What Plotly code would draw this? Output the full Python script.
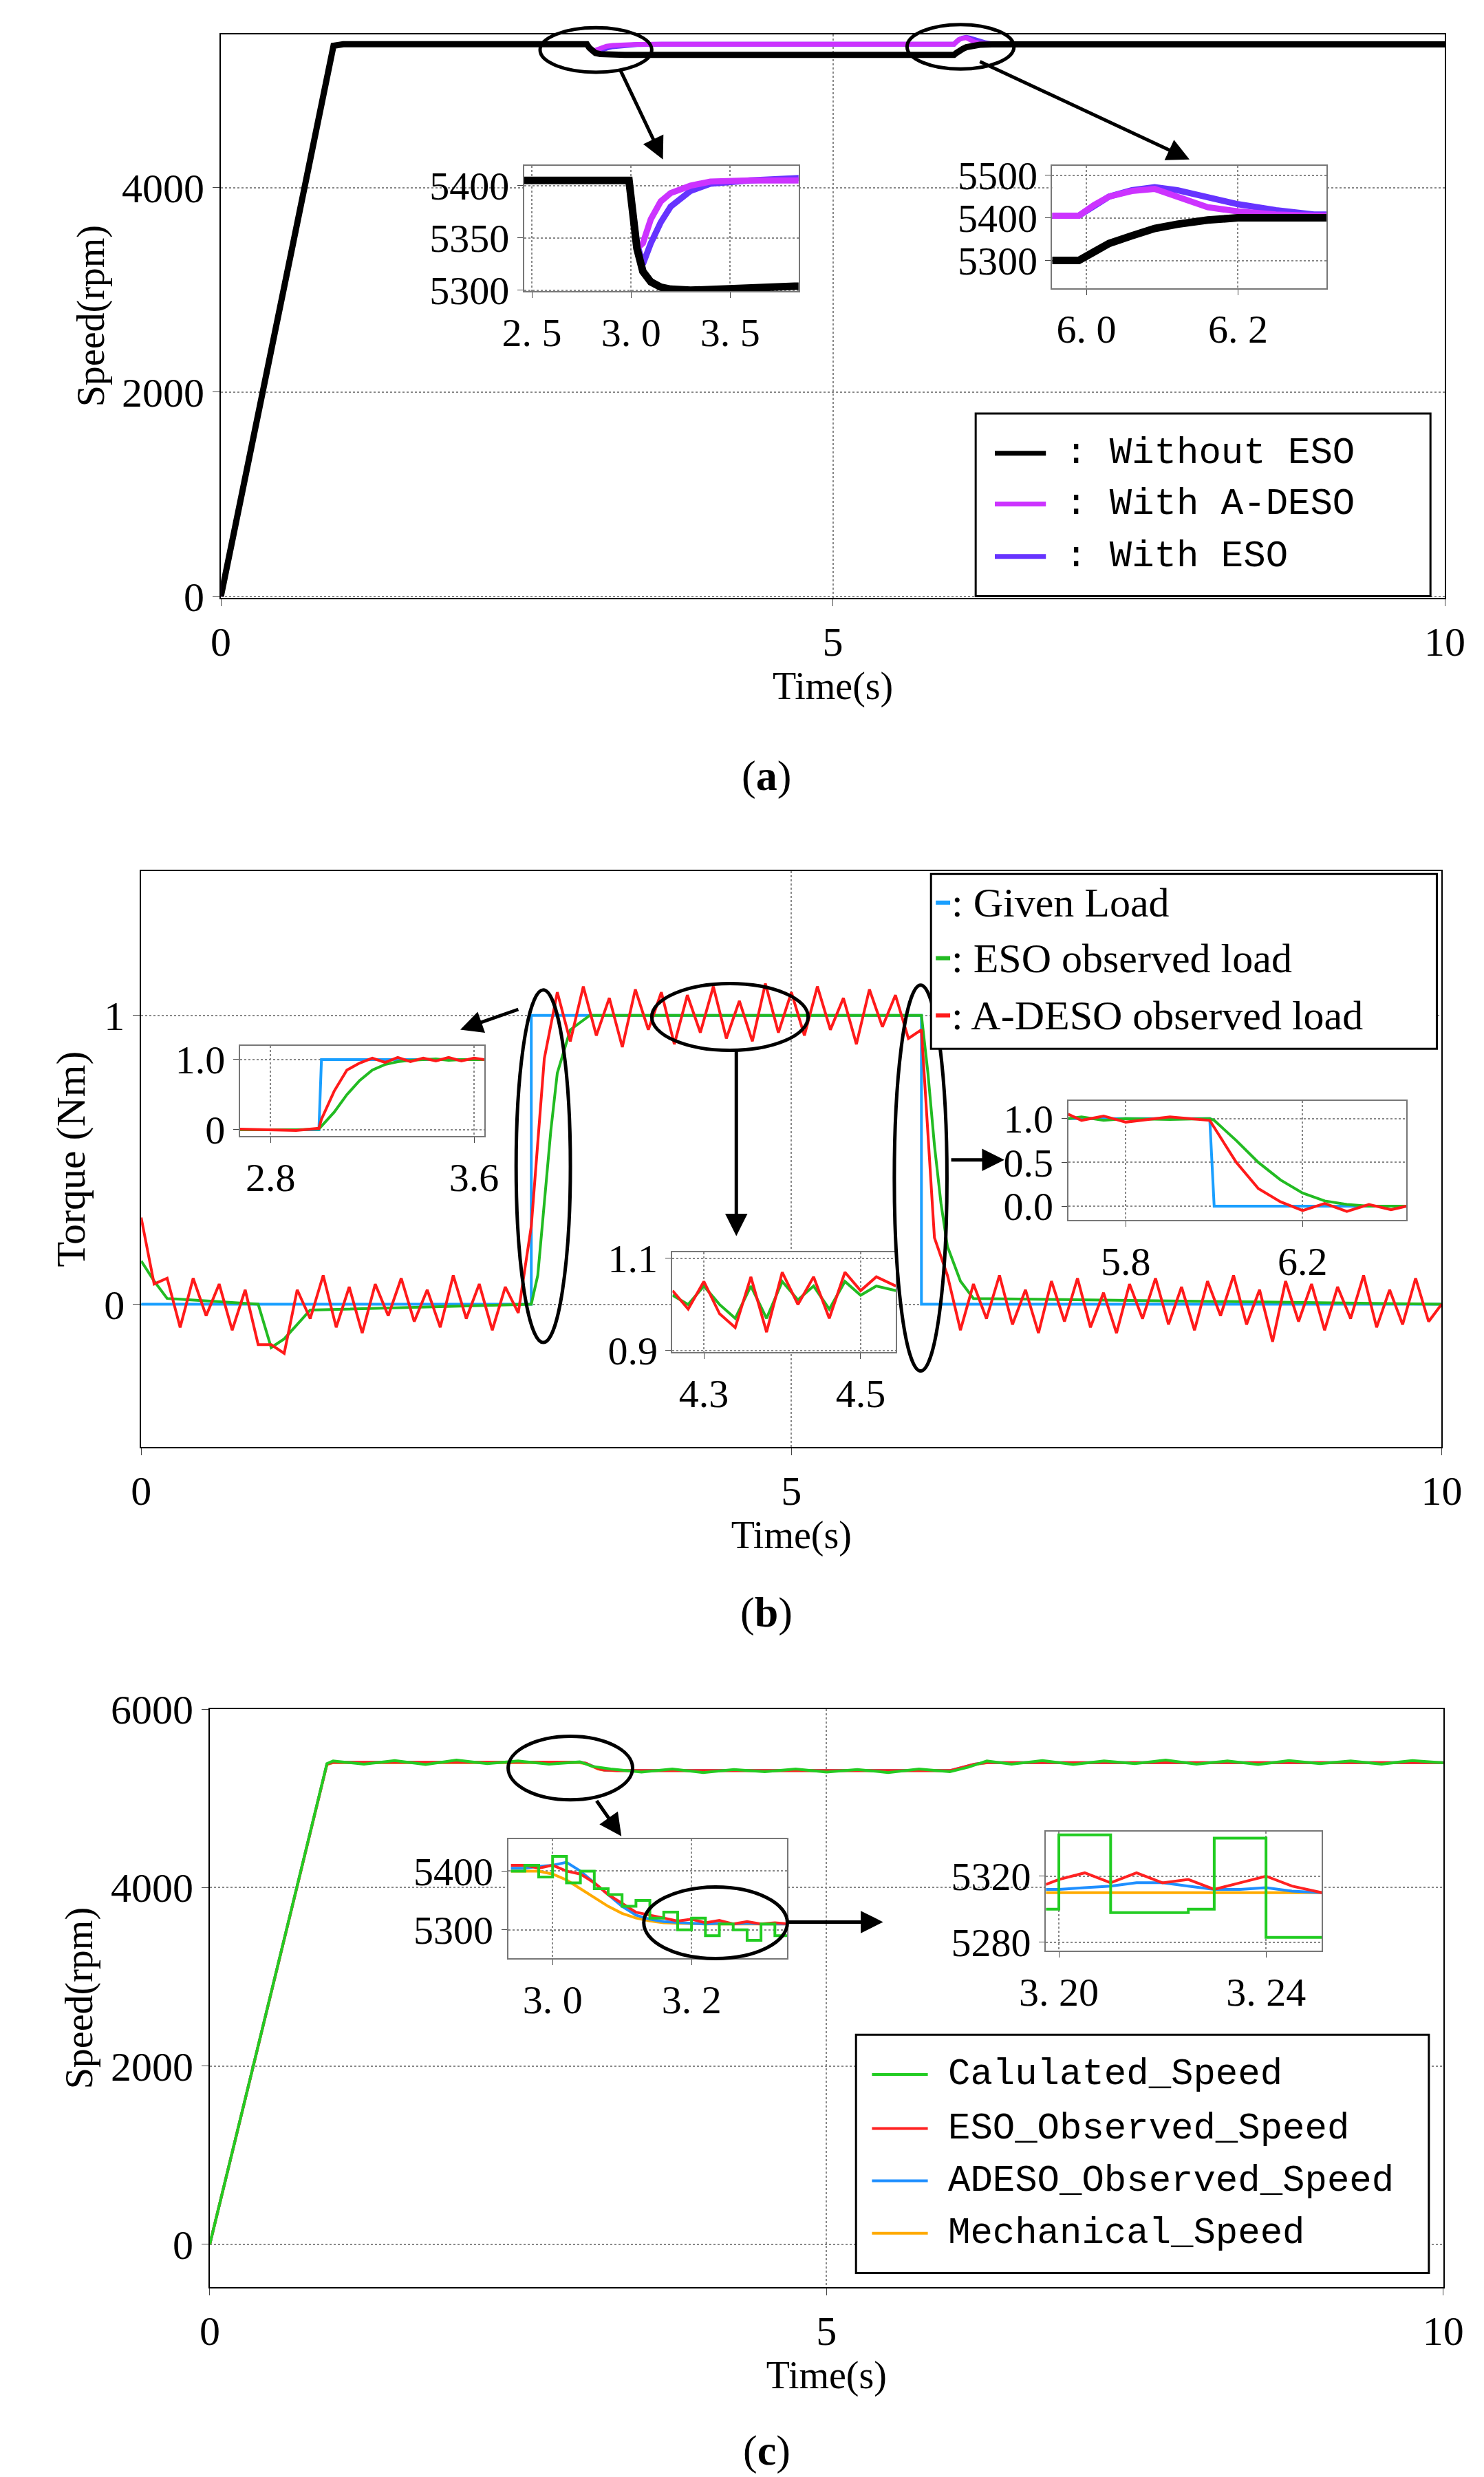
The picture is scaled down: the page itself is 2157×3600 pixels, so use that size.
import plotly.graph_objects as go

W, H = 2157, 3600
def P(x): return x / 930.0
def Q(y): return 1 - y / 1560.0
SX, SY = W / 930.0, H / 1560.0

# ---------------- data ----------------
# (a)
ta = [0, 0.92, 1.0, 2.99, 3.01, 3.03, 3.06, 3.1, 3.15, 3.2, 3.3, 3.4, 3.6, 5.99, 6.01, 6.03, 6.06, 6.09, 6.12, 6.16, 6.2, 6.25, 6.3, 10]
a_without = [0, 5390, 5405, 5405, 5370, 5340, 5318, 5308, 5303, 5301, 5300, 5300, 5300, 5300, 5320, 5340, 5358, 5375, 5385, 5395, 5400, 5402, 5403, 5403]
a_adeso = [0, 5390, 5405, 5405, 5370, 5340, 5345, 5368, 5385, 5393, 5400, 5404, 5405, 5405, 5430, 5450, 5463, 5468, 5450, 5425, 5415, 5408, 5405, 5405]
a_eso = [0, 5390, 5405, 5405, 5370, 5345, 5325, 5345, 5365, 5380, 5395, 5402, 5405, 5405, 5428, 5450, 5465, 5472, 5465, 5450, 5432, 5418, 5408, 5405]

# (b)
tb_given = [0, 3.0, 3.0, 6.0, 6.0, 10]
given = [0, 0, 1, 1, 0, 0]
tb_green = [0, 0.1, 0.2, 0.9, 1.0, 1.1, 1.3, 3.0, 3.05, 3.1, 3.15, 3.2, 3.3, 3.45, 6.0, 6.05, 6.1, 6.15, 6.2, 6.3, 6.4, 10]
green_b = [0.15, 0.08, 0.02, 0, -0.15, -0.12, -0.02, 0, 0.1, 0.35, 0.6, 0.8, 0.95, 1.0, 1.0, 0.8, 0.55, 0.35, 0.2, 0.08, 0.02, 0]
red_t = [i * 0.1 for i in range(101)]
red_base = [0.3, 0.12, 0.03, 0, 0, 0, 0, 0, 0, -0.08, -0.18, -0.1, -0.03, 0, 0, 0, 0, 0, 0, 0,
            0, 0, 0, 0, 0, 0, 0, 0, 0, 0, 0.25, 0.8, 1, 1, 1, 1, 1, 1, 1, 1,
            1, 1, 1, 1, 1, 1, 1, 1, 1, 1, 1, 1, 1, 1, 1, 1, 1, 1, 1, 1,
            0.9, 0.2, 0.04, 0, 0, 0, 0, 0, 0, 0, 0, 0, 0, 0, 0, 0, 0, 0, 0, 0,
            0, 0, 0, 0, 0, 0, 0, 0, 0, 0, 0, 0, 0, 0, 0, 0, 0, 0, 0, 0, 0]
red_noise = [0.0, -0.05, 0.06, -0.08, 0.09, -0.04, 0.07, -0.09, 0.05, -0.06,
             0.04, -0.07, 0.08, -0.05, 0.1, -0.08, 0.06, -0.1, 0.07, -0.04,
             0.09, -0.06, 0.05, -0.08, 0.1, -0.05, 0.07, -0.09, 0.06, -0.03,
             0.02, 0.05, 0.08, -0.09, 0.1, -0.07, 0.06, -0.11, 0.09, -0.05,
             0.08, -0.1, 0.07, -0.06, 0.1, -0.08, 0.05, -0.09, 0.11, -0.06,
             0.08, -0.07, 0.1, -0.05, 0.06, -0.1, 0.09, -0.04, 0.07, -0.08,
             0.05, 0.03, 0.06, -0.09, 0.07, -0.05, 0.1, -0.07, 0.05, -0.1,
             0.08, -0.06, 0.09, -0.08, 0.04, -0.1, 0.07, -0.05, 0.09, -0.07,
             0.06, -0.09, 0.08, -0.04, 0.1, -0.07, 0.05, -0.13, 0.08, -0.06,
             0.07, -0.09, 0.06, -0.05, 0.1, -0.08, 0.05, -0.07, 0.09, -0.06, 0.0]
red_b = [b + n for b, n in zip(red_base, red_noise)]
# inset b1
t_b1 = [2.68, 2.9, 2.99, 3.0, 3.05, 3.1, 3.15, 3.2, 3.25, 3.3, 3.35, 3.4, 3.45, 3.5, 3.55, 3.6, 3.64]
b1_given = [0, 0, 0, 1, 1, 1, 1, 1, 1, 1, 1, 1, 1, 1, 1, 1, 1]
b1_green = [0, 0, 0.01, 0.05, 0.25, 0.5, 0.7, 0.85, 0.93, 0.97, 0.99, 1.0, 1.01, 0.99, 1.0, 1.0, 1.0]
b1_red = [0.01, -0.01, 0.02, 0.15, 0.55, 0.85, 0.95, 1.02, 0.96, 1.03, 0.97, 1.02, 0.98, 1.03, 0.98, 1.02, 1.0]
# inset b2
t_b2 = [4.26, 4.28, 4.30, 4.32, 4.34, 4.36, 4.38, 4.40, 4.42, 4.44, 4.46, 4.48, 4.50, 4.52, 4.545]
b2_red = [1.03, 0.99, 1.05, 0.98, 0.95, 1.06, 0.94, 1.07, 1.0, 1.06, 0.97, 1.07, 1.03, 1.06, 1.04]
b2_green = [1.02, 1.0, 1.04, 1.0, 0.97, 1.04, 0.97, 1.05, 1.01, 1.04, 0.99, 1.05, 1.02, 1.04, 1.03]
# inset b3
t_b3 = [5.67, 5.7, 5.75, 5.8, 5.9, 5.99, 6.0, 6.05, 6.1, 6.15, 6.2, 6.25, 6.3, 6.35, 6.4, 6.435]
b3_given = [1, 1, 1, 1, 1, 1, 0, 0, 0, 0, 0, 0, 0, 0, 0, 0]
b3_green = [1.0, 1.02, 0.98, 1.0, 0.99, 1.0, 0.98, 0.75, 0.5, 0.3, 0.15, 0.06, 0.02, 0.0, 0.0, 0.0]
b3_red = [1.05, 0.98, 1.03, 0.96, 1.02, 0.98, 0.9, 0.5, 0.2, 0.05, -0.05, 0.03, -0.06, 0.02, -0.04, 0.0]

# (c)
tc = [0, 0.95, 1.0, 3.0, 3.05, 3.1, 3.15, 3.2, 3.3, 6.0, 6.1, 6.2, 6.3, 10]
c_mech = [0, 5380, 5400, 5400, 5390, 5360, 5330, 5315, 5310, 5310, 5340, 5380, 5400, 5400]
c_adeso = [0, 5385, 5405, 5405, 5395, 5365, 5335, 5318, 5312, 5312, 5345, 5385, 5402, 5402]
c_eso = [0, 5385, 5405, 5408, 5395, 5362, 5332, 5318, 5312, 5312, 5345, 5385, 5402, 5402]
tc_green = [0, 0.95, 1.0, 1.25, 1.5, 1.75, 2.0, 2.25, 2.5, 2.75, 3.0, 3.1, 3.25, 3.5, 3.75, 4.0, 4.25, 4.5, 4.75,
            5.0, 5.25, 5.5, 5.75, 6.0, 6.15, 6.3, 6.5, 6.75, 7.0, 7.25, 7.5, 7.75, 8.0, 8.25, 8.5, 8.75, 9.0, 9.25, 9.5, 9.75, 10]
c_green = [0, 5390, 5420, 5385, 5425, 5380, 5430, 5390, 5420, 5385, 5410, 5360, 5330, 5295, 5330, 5290, 5325, 5300, 5330,
           5295, 5325, 5290, 5330, 5300, 5350, 5420, 5385, 5425, 5380, 5420, 5390, 5430, 5385, 5420, 5380, 5425, 5390, 5420, 5385, 5425, 5400]
# inset c1
t_c1 = [2.94, 2.96, 2.98, 3.0, 3.02, 3.04, 3.06, 3.08, 3.1, 3.12, 3.14, 3.16, 3.18, 3.2, 3.22, 3.24, 3.26, 3.28, 3.3, 3.32, 3.34]
c1_green = [5400, 5410, 5390, 5425, 5380, 5400, 5370, 5360, 5340, 5350, 5320, 5330, 5300, 5320, 5290, 5310, 5300, 5282, 5310, 5290, 5300]
c1_red = [5410, 5410, 5405, 5410, 5400, 5395, 5380, 5360, 5345, 5330, 5325, 5320, 5315, 5318, 5312, 5316, 5310, 5314, 5310, 5312, 5310]
c1_blue = [5405, 5405, 5408, 5410, 5415, 5400, 5380, 5360, 5340, 5325, 5318, 5314, 5312, 5311, 5310, 5311, 5310, 5311, 5310, 5310, 5310]
c1_orange = [5400, 5400, 5400, 5395, 5385, 5370, 5355, 5340, 5328, 5320, 5315, 5312, 5311, 5310, 5310, 5310, 5310, 5310, 5310, 5310, 5310]
# inset c2
t_c2 = [3.1975, 3.2, 3.205, 3.21, 3.215, 3.22, 3.225, 3.23, 3.235, 3.24, 3.245, 3.2508]
c2_green = [5300, 5345, 5345, 5298, 5298, 5298, 5300, 5343, 5343, 5283, 5283, 5283]
c2_red = [5315, 5318, 5322, 5316, 5322, 5316, 5318, 5312, 5316, 5320, 5314, 5310]
c2_blue = [5312, 5312, 5313, 5314, 5316, 5316, 5314, 5312, 5312, 5313, 5311, 5310]
c2_orange = [5310, 5310, 5310, 5310, 5310, 5310, 5310, 5310, 5310, 5310, 5310, 5310]

# ---------------- layout ----------------
FONT = "Liberation Serif"
fig = go.Figure()
layout = dict(width=W, height=H, margin=dict(l=0, r=0, t=0, b=0), paper_bgcolor="white",
              plot_bgcolor="white", showlegend=False, font=dict(family=FONT, size=50, color="black"))

axes = [
    # id, x px, y px, xrange, yrange, xticks, yticks, xtext, ytext, xgrid dtick
    (1, (135, 902), (18, 373), [0, 10], [-15, 5504], [0, 5, 10], [0, 2000, 4000], None, None),
    (2, (325, 497), (101, 180), [2.461, 3.845], [5299, 5419], [2.5, 3.0, 3.5], [5300, 5350, 5400], ["2. 5", "3. 0", "3. 5"], None),
    (3, (656, 828), (101, 178), [5.955, 6.317], [5235, 5522], [6.0, 6.2], [5300, 5400, 5500], ["6. 0", "6. 2"], None),
    (4, (85, 900), (545, 908), [0, 10], [-0.495, 1.5], [0, 5, 10], [0, 1], None, None),
    (5, (147, 300), (655, 712), [2.68, 3.64], [-0.09, 1.2], [2.8, 3.6], [0, 1.0], None, ["0", "1.0"]),
    (6, (418, 558), (785, 848), [4.26, 4.545], [0.897, 1.114], [4.3, 4.5], [0.9, 1.1], None, None),
    (7, (666, 878), (690, 765), [5.67, 6.435], [-0.16, 1.2], [5.8, 6.2], [0.0, 0.5, 1.0], None, ["0.0", "0.5", "1.0"]),
    (8, (128, 901), (1073, 1437), [0, 10], [-480, 6000], [0, 5, 10], [0, 2000, 4000, 6000], None, None),
    (9, (315, 490), (1155, 1230), [2.936, 3.338], [5251, 5454], [3.0, 3.2], [5300, 5400], ["3. 0", "3. 2"], None),
    (10, (652, 825), (1150, 1225), [3.1975, 3.2508], [5275, 5347], [3.20, 3.24], [5280, 5320], ["3. 20", "3. 24"], None),
]
for (i, xp, yp, xr, yr, xt, yt, xtt, ytt) in axes:
    s = "" if i == 1 else str(i)
    main = i in (1, 4, 8)
    fs = 60 if main else 58
    common = dict(showline=True, mirror=True, linecolor="black" if main else "#777", linewidth=2,
                  ticks="outside", ticklen=10 if main else 8, showgrid=True, gridcolor="#888",
                  griddash="dot", gridwidth=2, zeroline=False, automargin=False,
                  tickfont=dict(size=fs, family=FONT))
    xa = dict(domain=[P(xp[0]), P(xp[1])], range=xr, anchor="y" + s, tickvals=xt, **common)
    ya = dict(domain=[Q(yp[1]), Q(yp[0])], range=yr, anchor="x" + s, tickvals=yt, **common)
    if xtt: xa["ticktext"] = xtt
    if ytt: ya["ticktext"] = ytt
    if main:
        xa["title"] = dict(text="Time(s)", font=dict(size=56), standoff=8)
    layout["xaxis" + s] = xa
    layout["yaxis" + s] = ya
layout["yaxis"]["title"] = dict(text="Speed(rpm)", font=dict(size=56), standoff=8)
layout["yaxis4"]["title"] = dict(text="Torque (Nm)", font=dict(size=60), standoff=8)
layout["yaxis8"]["title"] = dict(text="Speed(rpm)", font=dict(size=56), standoff=8)

def add(x, y, color, i, w=4, shape="linear"):
    s = "" if i == 1 else str(i)
    fig.add_trace(go.Scatter(x=x, y=y, mode="lines", line=dict(color=color, width=w, shape=shape),
                             xaxis="x" + s, yaxis="y" + s))

BLK, MAG, PUR = "black", "#cc33ff", "#6633ff"
for i in (1, 2, 3):
    w = 7 if i == 1 else 9
    add(ta, a_eso, PUR, i, w)
    add(ta, a_adeso, MAG, i, w)
    add(ta, a_without, BLK, i, w + 2)

BL, GR, RD = "#1a9fff", "#22bb22", "#ff1a1a"
add(tb_given, given, BL, 4, 4)
add(tb_green, green_b, GR, 4, 4)
add(red_t, red_b, RD, 4, 4)
add(t_b1, b1_given, BL, 5, 4); add(t_b1, b1_green, GR, 5, 4); add(t_b1, b1_red, RD, 5, 4)
add(t_b2, b2_green, GR, 6, 4); add(t_b2, b2_red, RD, 6, 4)
add(t_b3, b3_given, BL, 7, 4); add(t_b3, b3_green, GR, 7, 4); add(t_b3, b3_red, RD, 7, 4)

CG, CR, CB, CO = "#22cc22", "#ff2222", "#1f8fff", "#ffaa00"
add(tc, c_mech, CO, 8, 4); add(tc, c_adeso, CB, 8, 4); add(tc, c_eso, CR, 8, 4); add(tc_green, c_green, CG, 8, 4)
add(t_c1, c1_orange, CO, 9, 4); add(t_c1, c1_blue, CB, 9, 4); add(t_c1, c1_red, CR, 9, 4); add(t_c1, c1_green, CG, 9, 4, "hv")
add(t_c2, c2_orange, CO, 10, 4); add(t_c2, c2_blue, CB, 10, 4); add(t_c2, c2_red, CR, 10, 4); add(t_c2, c2_green, CG, 10, 4, "hv")

shapes, anns = [], []
def ell(x0, y0, x1, y1):
    shapes.append(dict(type="circle", xref="paper", yref="paper", x0=P(x0), x1=P(x1), y0=Q(y1), y1=Q(y0),
                       line=dict(color="black", width=5)))
def arrow(xa_, ya_, xh, yh):
    anns.append(dict(xref="paper", yref="paper", x=P(xh), y=Q(yh), ax=(xa_ - xh) * SX, ay=(ya_ - yh) * SY,
                     axref="pixel", ayref="pixel", showarrow=True, arrowhead=2, arrowsize=1.3,
                     arrowwidth=5, arrowcolor="black", text=""))
def rect(x0, y0, x1, y1):
    shapes.append(dict(type="rect", xref="paper", yref="paper", x0=P(x0), x1=P(x1), y0=Q(y1), y1=Q(y0),
                       line=dict(color="black", width=3), fillcolor="white", layer="above"))
def seg(x0, x1, y, color, w=6):
    shapes.append(dict(type="line", xref="paper", yref="paper", x0=P(x0), x1=P(x1), y0=Q(y), y1=Q(y),
                       line=dict(color=color, width=w), layer="above"))
def text(x, y, t, size=54, family=FONT, xanchor="left"):
    anns.append(dict(xref="paper", yref="paper", x=P(x), y=Q(y), text=t, showarrow=False,
                     xanchor=xanchor, yanchor="middle", font=dict(size=size, family=family, color="black")))

# panel a
ell(335, 14, 405, 42); ell(565, 12, 632, 40)
arrow(385, 40, 412, 97); arrow(610, 35, 742, 97)
rect(608, 257, 893, 372)
for yy, c, t in [(282, BLK, "Without ESO"), (314, MAG, "With A-DESO"), (347, PUR, "With ESO")]:
    seg(620, 652, yy, c, 7)
    text(663, yy, ": " + t, 54, "Liberation Mono")
text(477, 485, "(<b>a</b>)", 62, xanchor="center")

# panel b
ell(320, 620, 354, 842); ell(405, 616, 503, 658); ell(557, 617, 590, 860)
arrow(322, 632, 285, 645); arrow(458, 658, 458, 775); arrow(592, 727, 626, 727)
rect(580, 547, 897, 657)
for yy, c, t in [(565, BL, "Given Load"), (600, GR, "ESO observed load"), (636, RD, "A-DESO observed load")]:
    seg(583, 592, yy, c, 6)
    text(592, yy, ": " + t, 60)
text(477, 1012, "(<b>b</b>)", 62, xanchor="center")

# panel c
ell(315, 1090, 393, 1130); ell(400, 1185, 490, 1230)
arrow(370, 1130, 386, 1153); arrow(490, 1207, 550, 1207)
rect(533, 1278, 892, 1428)
for yy, c, t in [(1303, CG, "Calulated_Speed"), (1337, CR, "ESO_Observed_Speed"),
                 (1370, CB, "ADESO_Observed_Speed"), (1403, CO, "Mechanical_Speed")]:
    seg(543, 578, yy, c, 4)
    text(590, yy, t, 54, "Liberation Mono")
text(477, 1540, "(<b>c</b>)", 62, xanchor="center")

layout["shapes"] = shapes
layout["annotations"] = anns
fig.update_layout(**layout)
fig.write_html("out.html")
